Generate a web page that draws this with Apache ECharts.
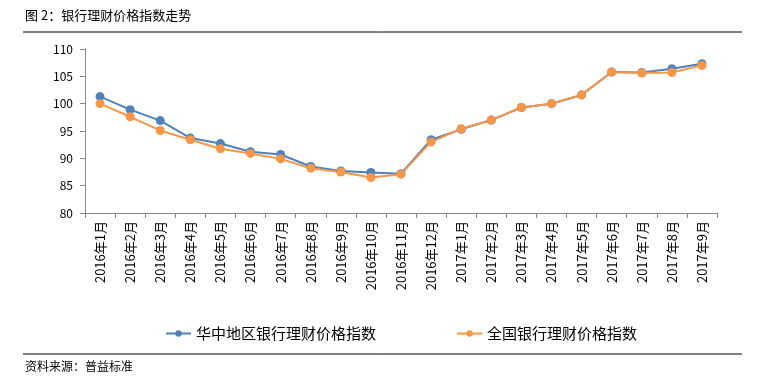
<!DOCTYPE html>
<html><head><meta charset="utf-8">
<script src="https://cdn.jsdelivr.net/npm/echarts@6/dist/echarts.min.js"></script>
<style>html,body{margin:0;padding:0;background:#fff}#c{width:765px;height:378px}</style>
</head><body><div id="c"></div>
<script>
const categories = ['2016年1月','2016年2月','2016年3月','2016年4月','2016年5月','2016年6月','2016年7月','2016年8月','2016年9月','2016年10月','2016年11月','2016年12月','2017年1月','2017年2月','2017年3月','2017年4月','2017年5月','2017年6月','2017年7月','2017年8月','2017年9月'];
const centralChina = [101.3,98.9,96.9,93.7,92.7,91.2,90.7,88.5,87.7,87.4,87.2,93.4,95.3,97.0,99.3,100.0,101.6,105.8,105.7,106.4,107.3];
const national = [100.0,97.6,95.1,93.4,91.75,90.9,89.9,88.2,87.5,86.5,87.1,93.0,95.4,97.0,99.3,100.0,101.6,105.8,105.6,105.7,107.0];
const yTicks = [80,85,90,95,100,105,110];
const seriesNames = ['华中地区银行理财价格指数','全国银行理财价格指数'];

const font = '"Noto Sans CJK SC", "Noto Sans", sans-serif';
const chart = echarts.init(document.getElementById('c'));
chart.setOption({
  animation:false,
  textStyle:{fontFamily:font},
  grid:{left:85,right:48,top:49,bottom:165,containLabel:false},
  graphic:[
    {type:'text',left:25,top:9,style:{text:'图 2：银行理财价格指数走势',font:'13px '+font,fill:'#000'}},
    {type:'line',shape:{x1:23,y1:32,x2:742,y2:32},style:{stroke:'#000',lineWidth:1}},
    {type:'line',shape:{x1:23,y1:354,x2:742,y2:354},style:{stroke:'#000',lineWidth:1}},
    {type:'text',left:25,top:360,style:{text:'资料来源：普益标准',font:'12px '+font,fill:'#000'}}
  ],
  legend:{
    data:seriesNames,left:160,top:321,itemWidth:25,itemHeight:8,itemGap:80,
    textStyle:{fontSize:15,color:'#000',fontFamily:font}
  },
  xAxis:{
    type:'category',data:categories,boundaryGap:true,
    axisLine:{lineStyle:{color:'#888'}},
    axisTick:{show:true,length:5,lineStyle:{color:'#888'}},
    axisLabel:{rotate:90,interval:0,fontSize:13,color:'#000',margin:8}
  },
  yAxis:{
    type:'value',min:80,max:110,interval:5,
    axisLine:{show:true,lineStyle:{color:'#888'}},
    axisTick:{show:true,length:5,lineStyle:{color:'#888'}},
    splitLine:{show:false},
    axisLabel:{fontSize:12,color:'#000',margin:12}
  },
  series:[
    {name:seriesNames[0],type:'line',data:centralChina,symbol:'circle',symbolSize:9,
     itemStyle:{color:'#4f81bd'},lineStyle:{width:2,color:'#4f81bd'}},
    {name:seriesNames[1],type:'line',data:national,symbol:'circle',symbolSize:9,
     itemStyle:{color:'#f79646'},lineStyle:{width:2,color:'#f79646'}}
  ]
});
</script></body></html>
